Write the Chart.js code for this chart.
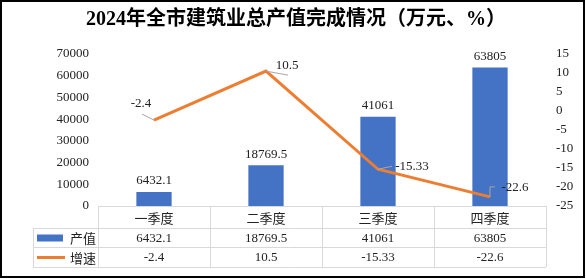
<!doctype html>
<html lang="zh">
<head>
<meta charset="utf-8">
<title>2024年全市建筑业总产值完成情况</title>
<script src="https://cdn.jsdelivr.net/npm/chart.js@4.4.1/dist/chart.umd.min.js"></script>
<style>
  html, body { margin: 0; padding: 0; background: #fff; }
  canvas { display: block; }
</style>
</head>
<body>
<canvas id="buildChart" width="586" height="279"></canvas>
<script>
// 数据
var chartTitle = '2024年全市建筑业总产值完成情况（万元、%）';
var quarters = ['一季度', '二季度', '三季度', '四季度'];
var seriesNames = ['产值', '增速'];
var outputValues = [6432.1, 18769.5, 41061, 63805];
var growthRates = [-2.4, 10.5, -15.33, -22.6];
var leftTicks = [0, 70000, 10000];   // min, max, step
var rightTicks = [-25, 15, 5];

var serifFont = '"Liberation Serif", "Times New Roman", serif';
var cjkFont = '"Noto Sans CJK SC", sans-serif';
var barColor = '#4472C4';
var lineColor = '#ED7D31';
var gridColor = '#D9D9D9';

// 折线标签偏移和引导线（相对数据点）
var growthLabelPos = [
  { dx: -13, dy: -17, leader: [[-12, -6], [0, 0]] },
  { dx: 21, dy: -6, leader: [[0, 0], [22, 4]] },
  { dx: 34, dy: -3, leader: [[0, 0], [14, -3]] },
  { dx: 25, dy: -9, leader: [[0, 0], [0, -10], [5, -10]] }
];

var extras = {
  id: 'extras',
  afterDatasetsDraw: function(chart) {
    var ctx = chart.ctx;
    var barMeta = chart.getDatasetMeta(0);
    var lineMeta = chart.getDatasetMeta(1);
    ctx.save();
    ctx.font = '13px ' + serifFont;
    ctx.fillStyle = '#222';
    ctx.textAlign = 'center';
    ctx.textBaseline = 'middle';
    barMeta.data.forEach(function(bar, i) {
      ctx.fillText(String(outputValues[i]), bar.x, bar.y - 11);
    });
    lineMeta.data.forEach(function(pt, i) {
      var p = growthLabelPos[i];
      ctx.strokeStyle = '#A6A6A6';
      ctx.lineWidth = 1;
      ctx.beginPath();
      p.leader.forEach(function(d, k) {
        if (k === 0) ctx.moveTo(pt.x + d[0], pt.y + d[1]);
        else ctx.lineTo(pt.x + d[0], pt.y + d[1]);
      });
      ctx.stroke();
      ctx.fillText(String(growthRates[i]), pt.x + p.dx, pt.y + p.dy);
    });
    ctx.restore();
  },
  afterDraw: function(chart) {
    var ctx = chart.ctx;
    var area = chart.chartArea;
    var xs = chart.scales.x;
    var colW = (area.right - area.left) / quarters.length;
    var rowTop = area.bottom;
    var rows = [rowTop, rowTop + 22, rowTop + 41, rowTop + 61];
    var legendLeft = 33;
    ctx.save();

    // 标题
    ctx.font = 'bold 20px ' + serifFont + ', ' + cjkFont;
    ctx.fillStyle = '#000';
    ctx.textAlign = 'center';
    ctx.textBaseline = 'middle';
    ctx.fillText(chartTitle, 296, 20);

    // 数据表格线
    ctx.strokeStyle = gridColor;
    ctx.lineWidth = 1;
    ctx.beginPath();
    ctx.moveTo(area.left, rows[0] + 0.5); ctx.lineTo(area.right, rows[0] + 0.5);
    for (var r = 1; r < rows.length; r++) {
      ctx.moveTo(legendLeft, rows[r] + 0.5); ctx.lineTo(area.right, rows[r] + 0.5);
    }
    ctx.moveTo(legendLeft + 0.5, rows[1]); ctx.lineTo(legendLeft + 0.5, rows[3]);
    for (var c = 0; c <= quarters.length; c++) {
      var gx = Math.round(area.left + c * colW) + 0.5;
      ctx.moveTo(gx, rows[0]); ctx.lineTo(gx, rows[3]);
    }
    ctx.stroke();

    // 表头
    ctx.fillStyle = '#222';
    ctx.font = '13px ' + cjkFont;
    quarters.forEach(function(q, i) {
      ctx.fillText(q, xs.getPixelForValue(i), (rows[0] + rows[1]) / 2 + 1);
    });

    // 数值行
    ctx.font = '13px ' + serifFont;
    outputValues.forEach(function(v, i) {
      ctx.fillText(String(v), xs.getPixelForValue(i), (rows[1] + rows[2]) / 2 + 1);
    });
    growthRates.forEach(function(v, i) {
      ctx.fillText(String(v), xs.getPixelForValue(i), (rows[2] + rows[3]) / 2 + 1);
    });

    // 图例
    var y1 = (rows[1] + rows[2]) / 2;
    var y2 = (rows[2] + rows[3]) / 2;
    ctx.fillStyle = barColor;
    ctx.fillRect(37, y1 - 3, 26, 7);
    ctx.strokeStyle = lineColor;
    ctx.lineWidth = 3;
    ctx.beginPath();
    ctx.moveTo(37, y2 + 0.5); ctx.lineTo(65, y2 + 0.5);
    ctx.stroke();
    ctx.fillStyle = '#222';
    ctx.font = '13px ' + cjkFont;
    ctx.textAlign = 'left';
    ctx.fillText(seriesNames[0], 70, y1 + 1);
    ctx.fillText(seriesNames[1], 70, y2 + 1);

    // 外框
    ctx.strokeStyle = '#000';
    ctx.lineWidth = 2;
    ctx.strokeRect(1, 1, 583, 276);
    ctx.restore();
  }
};

new Chart(document.getElementById('buildChart'), {
  type: 'bar',
  data: {
    labels: quarters,
    datasets: [
      {
        label: seriesNames[0],
        data: outputValues,
        backgroundColor: barColor,
        categoryPercentage: 1,
        barPercentage: 0.315,
        yAxisID: 'y',
        order: 2
      },
      {
        type: 'line',
        label: seriesNames[1],
        data: growthRates,
        borderColor: lineColor,
        borderWidth: 3,
        pointRadius: 0,
        tension: 0,
        yAxisID: 'y1',
        order: 1
      }
    ]
  },
  options: {
    responsive: false,
    animation: false,
    devicePixelRatio: 1,
    layout: { padding: { top: 54, bottom: 73, left: 0, right: 0 } },
    plugins: {
      legend: { display: false },
      title: { display: false },
      tooltip: { enabled: false }
    },
    scales: {
      x: { display: false, offset: true },
      y: {
        position: 'left',
        min: leftTicks[0], max: leftTicks[1],
        ticks: {
          stepSize: leftTicks[2], padding: 9, color: '#222',
          font: { family: serifFont, size: 13 },
          callback: function(v) { return String(v); }
        },
        grid: { display: false, drawTicks: false },
        border: { display: false },
        afterFit: function(s) { s.width = 98; }
      },
      y1: {
        position: 'right',
        min: rightTicks[0], max: rightTicks[1],
        ticks: {
          stepSize: rightTicks[2], padding: 10, color: '#222',
          font: { family: serifFont, size: 13 },
          callback: function(v) { return String(v); }
        },
        grid: { display: false, drawTicks: false },
        border: { display: false },
        afterFit: function(s) { s.width = 40; }
      }
    }
  },
  plugins: [extras]
});
</script>
</body>
</html>
